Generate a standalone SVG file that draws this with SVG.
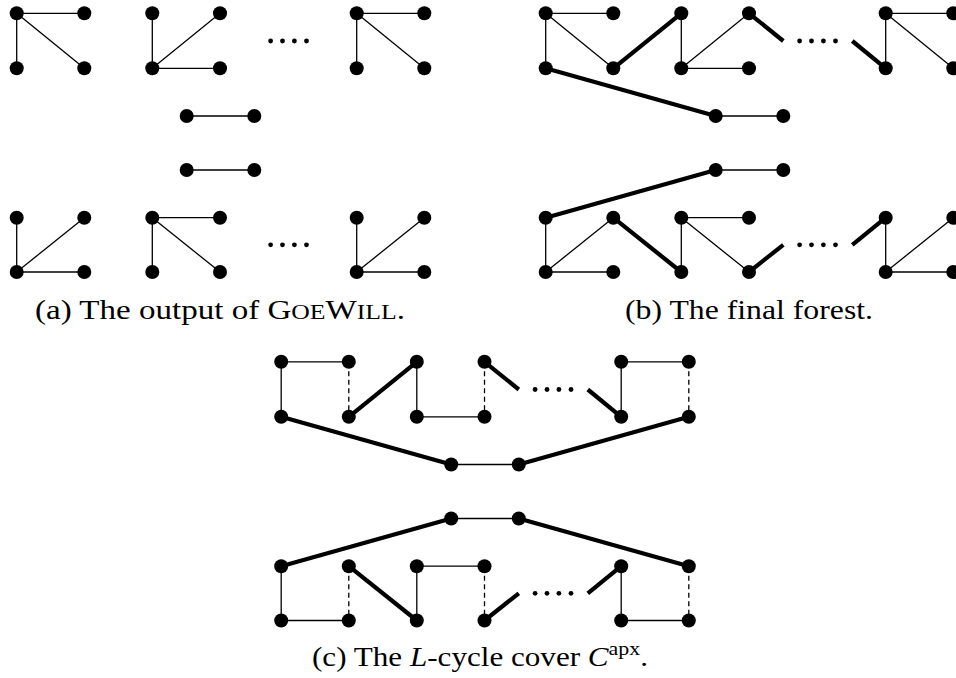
<svg xmlns="http://www.w3.org/2000/svg" width="956" height="678" viewBox="0 0 956 678">
<style>
.t{stroke:#000;stroke-width:1.3;fill:none}
.k{stroke:#000;stroke-width:4.2;stroke-linecap:butt;fill:none}
.d{stroke:#000;stroke-width:1.3;stroke-dasharray:5 3.5;stroke-dashoffset:-1;fill:none}
.node circle{fill:#000}
.dots circle{fill:#000}
.cap{font-family:"Liberation Serif","Times New Roman",serif;font-size:27px;fill:#000}
.sc{font-size:21px}
</style>
<rect width="956" height="678" fill="#fff"/>

<!-- Panel (a) -->
<g id="panel-a">
<g id="a-connectors">
<line class="t" x1="16.7" y1="13.3" x2="84.3" y2="13.3"/>
<line class="t" x1="16.7" y1="13.3" x2="16.7" y2="68.3"/>
<line class="t" x1="16.7" y1="13.3" x2="84.3" y2="68.3"/>
<line class="t" x1="152.3" y1="13.3" x2="152.3" y2="68.3"/>
<line class="t" x1="152.3" y1="68.3" x2="220" y2="13.3"/>
<line class="t" x1="152.3" y1="68.3" x2="220" y2="68.3"/>
<line class="t" x1="356.7" y1="13.3" x2="424.3" y2="13.3"/>
<line class="t" x1="356.7" y1="13.3" x2="356.7" y2="68.3"/>
<line class="t" x1="356.7" y1="13.3" x2="424.3" y2="68.3"/>
<line class="t" x1="186.7" y1="116" x2="254.3" y2="116"/>
<line class="t" x1="186.7" y1="170" x2="254.3" y2="170"/>
<line class="t" x1="16.7" y1="217.7" x2="16.7" y2="272"/>
<line class="t" x1="16.7" y1="272" x2="84.3" y2="217.7"/>
<line class="t" x1="16.7" y1="272" x2="84.3" y2="272"/>
<line class="t" x1="152.3" y1="217.7" x2="220" y2="217.7"/>
<line class="t" x1="152.3" y1="217.7" x2="152.3" y2="272"/>
<line class="t" x1="152.3" y1="217.7" x2="220" y2="272"/>
<line class="t" x1="356.7" y1="217.7" x2="356.7" y2="272"/>
<line class="t" x1="356.7" y1="272" x2="424.3" y2="217.7"/>
<line class="t" x1="356.7" y1="272" x2="424.3" y2="272"/>
</g>
<g class="dots"><circle cx="270.6" cy="41" r="2.4"/><circle cx="282.5" cy="41" r="2.4"/><circle cx="294.4" cy="41" r="2.4"/><circle cx="306.5" cy="41" r="2.4"/><circle cx="270.6" cy="244.8" r="2.4"/><circle cx="282.5" cy="244.8" r="2.4"/><circle cx="294.4" cy="244.8" r="2.4"/><circle cx="306.5" cy="244.8" r="2.4"/></g>
<g id="a-n1" class="node"><circle cx="16.7" cy="13.3" r="7"/></g>
<g id="a-n2" class="node"><circle cx="84.3" cy="13.3" r="7"/></g>
<g id="a-n3" class="node"><circle cx="16.7" cy="68.3" r="7"/></g>
<g id="a-n4" class="node"><circle cx="84.3" cy="68.3" r="7"/></g>
<g id="a-n5" class="node"><circle cx="152.3" cy="13.3" r="7"/></g>
<g id="a-n6" class="node"><circle cx="220" cy="13.3" r="7"/></g>
<g id="a-n7" class="node"><circle cx="152.3" cy="68.3" r="7"/></g>
<g id="a-n8" class="node"><circle cx="220" cy="68.3" r="7"/></g>
<g id="a-n9" class="node"><circle cx="356.7" cy="13.3" r="7"/></g>
<g id="a-n10" class="node"><circle cx="424.3" cy="13.3" r="7"/></g>
<g id="a-n11" class="node"><circle cx="356.7" cy="68.3" r="7"/></g>
<g id="a-n12" class="node"><circle cx="424.3" cy="68.3" r="7"/></g>
<g id="a-n13" class="node"><circle cx="186.7" cy="116" r="7"/></g>
<g id="a-n14" class="node"><circle cx="254.3" cy="116" r="7"/></g>
<g id="a-n15" class="node"><circle cx="186.7" cy="170" r="7"/></g>
<g id="a-n16" class="node"><circle cx="254.3" cy="170" r="7"/></g>
<g id="a-n17" class="node"><circle cx="16.7" cy="217.7" r="7"/></g>
<g id="a-n18" class="node"><circle cx="84.3" cy="217.7" r="7"/></g>
<g id="a-n19" class="node"><circle cx="16.7" cy="272" r="7"/></g>
<g id="a-n20" class="node"><circle cx="84.3" cy="272" r="7"/></g>
<g id="a-n21" class="node"><circle cx="152.3" cy="217.7" r="7"/></g>
<g id="a-n22" class="node"><circle cx="220" cy="217.7" r="7"/></g>
<g id="a-n23" class="node"><circle cx="152.3" cy="272" r="7"/></g>
<g id="a-n24" class="node"><circle cx="220" cy="272" r="7"/></g>
<g id="a-n25" class="node"><circle cx="356.7" cy="217.7" r="7"/></g>
<g id="a-n26" class="node"><circle cx="424.3" cy="217.7" r="7"/></g>
<g id="a-n27" class="node"><circle cx="356.7" cy="272" r="7"/></g>
<g id="a-n28" class="node"><circle cx="424.3" cy="272" r="7"/></g>
</g>

<!-- Panel (b) -->
<g id="panel-b" transform="translate(529,0)">
<g id="b-connectors">
<line class="t" x1="16.7" y1="13.3" x2="84.3" y2="13.3"/>
<line class="t" x1="16.7" y1="13.3" x2="16.7" y2="68.3"/>
<line class="t" x1="16.7" y1="13.3" x2="84.3" y2="68.3"/>
<line class="t" x1="152.3" y1="13.3" x2="152.3" y2="68.3"/>
<line class="t" x1="152.3" y1="68.3" x2="220" y2="13.3"/>
<line class="t" x1="152.3" y1="68.3" x2="220" y2="68.3"/>
<line class="t" x1="356.7" y1="13.3" x2="424.3" y2="13.3"/>
<line class="t" x1="356.7" y1="13.3" x2="356.7" y2="68.3"/>
<line class="t" x1="356.7" y1="13.3" x2="424.3" y2="68.3"/>
<line class="t" x1="186.7" y1="116" x2="254.3" y2="116"/>
<line class="t" x1="186.7" y1="170" x2="254.3" y2="170"/>
<line class="t" x1="16.7" y1="217.7" x2="16.7" y2="272"/>
<line class="t" x1="16.7" y1="272" x2="84.3" y2="217.7"/>
<line class="t" x1="16.7" y1="272" x2="84.3" y2="272"/>
<line class="t" x1="152.3" y1="217.7" x2="220" y2="217.7"/>
<line class="t" x1="152.3" y1="217.7" x2="152.3" y2="272"/>
<line class="t" x1="152.3" y1="217.7" x2="220" y2="272"/>
<line class="t" x1="356.7" y1="217.7" x2="356.7" y2="272"/>
<line class="t" x1="356.7" y1="272" x2="424.3" y2="217.7"/>
<line class="t" x1="356.7" y1="272" x2="424.3" y2="272"/>
<line class="k" x1="84.3" y1="68.3" x2="152.3" y2="13.3"/>
<line class="k" x1="220" y1="13.3" x2="254.3" y2="41"/>
<line class="k" x1="323.3" y1="41" x2="356.7" y2="68.3"/>
<line class="k" x1="16.7" y1="68.3" x2="186.7" y2="116"/>
<line class="k" x1="186.7" y1="170" x2="16.7" y2="217.7"/>
<line class="k" x1="84.3" y1="217.7" x2="152.3" y2="272"/>
<line class="k" x1="220" y1="272" x2="254.3" y2="244.8"/>
<line class="k" x1="323.3" y1="244.8" x2="356.7" y2="217.7"/>
</g>
<g class="dots"><circle cx="270.6" cy="41" r="2.4"/><circle cx="282.5" cy="41" r="2.4"/><circle cx="294.4" cy="41" r="2.4"/><circle cx="306.5" cy="41" r="2.4"/><circle cx="270.6" cy="244.8" r="2.4"/><circle cx="282.5" cy="244.8" r="2.4"/><circle cx="294.4" cy="244.8" r="2.4"/><circle cx="306.5" cy="244.8" r="2.4"/></g>
<g id="b-n1" class="node"><circle cx="16.7" cy="13.3" r="7"/></g>
<g id="b-n2" class="node"><circle cx="84.3" cy="13.3" r="7"/></g>
<g id="b-n3" class="node"><circle cx="16.7" cy="68.3" r="7"/></g>
<g id="b-n4" class="node"><circle cx="84.3" cy="68.3" r="7"/></g>
<g id="b-n5" class="node"><circle cx="152.3" cy="13.3" r="7"/></g>
<g id="b-n6" class="node"><circle cx="220" cy="13.3" r="7"/></g>
<g id="b-n7" class="node"><circle cx="152.3" cy="68.3" r="7"/></g>
<g id="b-n8" class="node"><circle cx="220" cy="68.3" r="7"/></g>
<g id="b-n9" class="node"><circle cx="356.7" cy="13.3" r="7"/></g>
<g id="b-n10" class="node"><circle cx="424.3" cy="13.3" r="7"/></g>
<g id="b-n11" class="node"><circle cx="356.7" cy="68.3" r="7"/></g>
<g id="b-n12" class="node"><circle cx="424.3" cy="68.3" r="7"/></g>
<g id="b-n13" class="node"><circle cx="186.7" cy="116" r="7"/></g>
<g id="b-n14" class="node"><circle cx="254.3" cy="116" r="7"/></g>
<g id="b-n15" class="node"><circle cx="186.7" cy="170" r="7"/></g>
<g id="b-n16" class="node"><circle cx="254.3" cy="170" r="7"/></g>
<g id="b-n17" class="node"><circle cx="16.7" cy="217.7" r="7"/></g>
<g id="b-n18" class="node"><circle cx="84.3" cy="217.7" r="7"/></g>
<g id="b-n19" class="node"><circle cx="16.7" cy="272" r="7"/></g>
<g id="b-n20" class="node"><circle cx="84.3" cy="272" r="7"/></g>
<g id="b-n21" class="node"><circle cx="152.3" cy="217.7" r="7"/></g>
<g id="b-n22" class="node"><circle cx="220" cy="217.7" r="7"/></g>
<g id="b-n23" class="node"><circle cx="152.3" cy="272" r="7"/></g>
<g id="b-n24" class="node"><circle cx="220" cy="272" r="7"/></g>
<g id="b-n25" class="node"><circle cx="356.7" cy="217.7" r="7"/></g>
<g id="b-n26" class="node"><circle cx="424.3" cy="217.7" r="7"/></g>
<g id="b-n27" class="node"><circle cx="356.7" cy="272" r="7"/></g>
<g id="b-n28" class="node"><circle cx="424.3" cy="272" r="7"/></g>
</g>

<!-- Panel (c) -->
<g id="panel-c" transform="translate(264.5,348.5)">
<g id="c-connectors">
<line class="t" x1="16.7" y1="13.3" x2="84.3" y2="13.3"/>
<line class="t" x1="16.7" y1="13.3" x2="16.7" y2="68.3"/>
<line class="d" x1="84.3" y1="13.3" x2="84.3" y2="68.3"/>
<line class="k" x1="84.3" y1="68.3" x2="152.3" y2="13.3"/>
<line class="t" x1="152.3" y1="13.3" x2="152.3" y2="68.3"/>
<line class="t" x1="152.3" y1="68.3" x2="220" y2="68.3"/>
<line class="d" x1="220" y1="13.3" x2="220" y2="68.3"/>
<line class="k" x1="220" y1="13.3" x2="254.3" y2="41"/>
<line class="k" x1="323.3" y1="41" x2="356.7" y2="68.3"/>
<line class="t" x1="356.7" y1="13.3" x2="424.3" y2="13.3"/>
<line class="t" x1="356.7" y1="13.3" x2="356.7" y2="68.3"/>
<line class="d" x1="424.3" y1="13.3" x2="424.3" y2="68.3"/>
<line class="k" x1="16.7" y1="68.3" x2="186.7" y2="116"/>
<line class="t" x1="186.7" y1="116" x2="254.3" y2="116"/>
<line class="k" x1="254.3" y1="116" x2="424.3" y2="68.3"/>
<line class="k" x1="186.7" y1="170" x2="16.7" y2="217.7"/>
<line class="t" x1="186.7" y1="170" x2="254.3" y2="170"/>
<line class="k" x1="254.3" y1="170" x2="424.3" y2="217.7"/>
<line class="t" x1="16.7" y1="217.7" x2="16.7" y2="272"/>
<line class="t" x1="16.7" y1="272" x2="84.3" y2="272"/>
<line class="d" x1="84.3" y1="217.7" x2="84.3" y2="272"/>
<line class="k" x1="84.3" y1="217.7" x2="152.3" y2="272"/>
<line class="t" x1="152.3" y1="217.7" x2="152.3" y2="272"/>
<line class="t" x1="152.3" y1="217.7" x2="220" y2="217.7"/>
<line class="d" x1="220" y1="217.7" x2="220" y2="272"/>
<line class="k" x1="220" y1="272" x2="254.3" y2="244.8"/>
<line class="k" x1="323.3" y1="244.8" x2="356.7" y2="217.7"/>
<line class="t" x1="356.7" y1="217.7" x2="356.7" y2="272"/>
<line class="t" x1="356.7" y1="272" x2="424.3" y2="272"/>
<line class="d" x1="424.3" y1="217.7" x2="424.3" y2="272"/>
</g>
<g class="dots"><circle cx="270.6" cy="41" r="2.4"/><circle cx="282.5" cy="41" r="2.4"/><circle cx="294.4" cy="41" r="2.4"/><circle cx="306.5" cy="41" r="2.4"/><circle cx="270.6" cy="244.8" r="2.4"/><circle cx="282.5" cy="244.8" r="2.4"/><circle cx="294.4" cy="244.8" r="2.4"/><circle cx="306.5" cy="244.8" r="2.4"/></g>
<g id="c-n1" class="node"><circle cx="16.7" cy="13.3" r="7"/></g>
<g id="c-n2" class="node"><circle cx="84.3" cy="13.3" r="7"/></g>
<g id="c-n3" class="node"><circle cx="16.7" cy="68.3" r="7"/></g>
<g id="c-n4" class="node"><circle cx="84.3" cy="68.3" r="7"/></g>
<g id="c-n5" class="node"><circle cx="152.3" cy="13.3" r="7"/></g>
<g id="c-n6" class="node"><circle cx="220" cy="13.3" r="7"/></g>
<g id="c-n7" class="node"><circle cx="152.3" cy="68.3" r="7"/></g>
<g id="c-n8" class="node"><circle cx="220" cy="68.3" r="7"/></g>
<g id="c-n9" class="node"><circle cx="356.7" cy="13.3" r="7"/></g>
<g id="c-n10" class="node"><circle cx="424.3" cy="13.3" r="7"/></g>
<g id="c-n11" class="node"><circle cx="356.7" cy="68.3" r="7"/></g>
<g id="c-n12" class="node"><circle cx="424.3" cy="68.3" r="7"/></g>
<g id="c-n13" class="node"><circle cx="186.7" cy="116" r="7"/></g>
<g id="c-n14" class="node"><circle cx="254.3" cy="116" r="7"/></g>
<g id="c-n15" class="node"><circle cx="186.7" cy="170" r="7"/></g>
<g id="c-n16" class="node"><circle cx="254.3" cy="170" r="7"/></g>
<g id="c-n17" class="node"><circle cx="16.7" cy="217.7" r="7"/></g>
<g id="c-n18" class="node"><circle cx="84.3" cy="217.7" r="7"/></g>
<g id="c-n19" class="node"><circle cx="16.7" cy="272" r="7"/></g>
<g id="c-n20" class="node"><circle cx="84.3" cy="272" r="7"/></g>
<g id="c-n21" class="node"><circle cx="152.3" cy="217.7" r="7"/></g>
<g id="c-n22" class="node"><circle cx="220" cy="217.7" r="7"/></g>
<g id="c-n23" class="node"><circle cx="152.3" cy="272" r="7"/></g>
<g id="c-n24" class="node"><circle cx="220" cy="272" r="7"/></g>
<g id="c-n25" class="node"><circle cx="356.7" cy="217.7" r="7"/></g>
<g id="c-n26" class="node"><circle cx="424.3" cy="217.7" r="7"/></g>
<g id="c-n27" class="node"><circle cx="356.7" cy="272" r="7"/></g>
<g id="c-n28" class="node"><circle cx="424.3" cy="272" r="7"/></g>
</g>

<!-- Captions -->
<g id="captions">
<text class="cap" x="35" y="319" textLength="370" lengthAdjust="spacingAndGlyphs">(a) The output of G<tspan class="sc">OE</tspan>W<tspan class="sc">ILL</tspan>.</text>
<text class="cap" x="625" y="319" textLength="248" lengthAdjust="spacingAndGlyphs">(b) The final forest.</text>
<text class="cap" x="312" y="666" textLength="336" lengthAdjust="spacingAndGlyphs">(c) The <tspan font-style="italic">L</tspan>-cycle cover <tspan font-style="italic">C</tspan><tspan font-size="19" dy="-11">apx</tspan><tspan dy="11">.</tspan></text>
</g>
</svg>
